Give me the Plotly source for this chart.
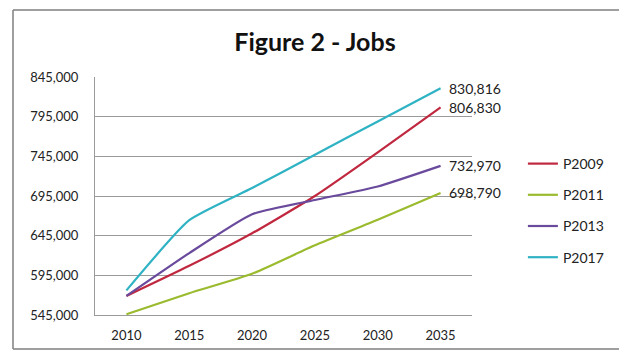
import plotly.graph_objects as go

# Job projections by forecast vintage
years = ["2010", "2015", "2020", "2025", "2030", "2035"]
p2009 = [569000, 607000, 648000, 695000, 750000, 806830]
p2011 = [546000, 572500, 597000, 633000, 665000, 698790]
p2013 = [569000, 623000, 672000, 690000, 707000, 732970]
p2017 = [576000, 664500, 705000, 747000, 789000, 830816]

series_names = ["P2009", "P2011", "P2013", "P2017"]
series_values = [p2009, p2011, p2013, p2017]
series_colors = ["#C0283F", "#9BBB2E", "#6A4A9C", "#2FB3C4"]

y_ticks = [545000, 595000, 645000, 695000, 745000, 795000, 845000]

FONT = "Lato, 'Liberation Sans', sans-serif"

fig = go.Figure()
last_idx = len(years) - 1
for name, vals, col in zip(series_names, series_values, series_colors):
    fig.add_trace(go.Scatter(
        x=years, y=vals, name=name, mode="lines",
        line=dict(color=col, width=2.2, shape="spline", smoothing=0.5),
        legendgroup=name,
    ))
    # end-of-line value label (category axis position given as index)
    fig.add_annotation(
        x=last_idx, y=vals[-1], text=f"{vals[-1]:,}",
        showarrow=False, xanchor="left", yanchor="middle", xshift=6,
        font=dict(family=FONT, size=14, color="#222222"),
    )

fig.update_layout(
    width=619, height=350,
    margin=dict(l=95, r=147, t=77, b=35, autoexpand=False),
    paper_bgcolor="white", plot_bgcolor="white",
    title=dict(text="<b>Figure 2 - Jobs</b>", x=315 / 619, xref="container",
               xanchor="center", y=1 - 42 / 350, yanchor="middle",
               font=dict(family=FONT, size=25, color="#111111")),
    font=dict(family=FONT, size=13, color="#222222"),
    showlegend=True,
    legend=dict(x=1.135, xanchor="left", y=(315 - 148) / 238, yanchor="top",
                tracegroupgap=10, itemwidth=30,
                font=dict(family=FONT, size=14, color="#222222"),
                bgcolor="rgba(0,0,0,0)"),
    xaxis=dict(type="category", range=[-0.5, 5.5], showgrid=False,
               showline=True, linecolor="#9a9a9a", linewidth=1, ticks="",
               ticklabelstandoff=8, automargin=False,
               tickfont=dict(family=FONT, size=13, color="#222222")),
    yaxis=dict(range=[545000, 845000], tickvals=y_ticks, tickformat=",d",
               showgrid=True, gridcolor="#9a9a9a", gridwidth=1,
               showline=True, linecolor="#9a9a9a", linewidth=1, ticks="",
               ticklabelstandoff=13, zeroline=False, automargin=False,
               tickfont=dict(family=FONT, size=13, color="#222222")),
)

# chart frame: top, left and bottom edges (right edge runs past the page)
frame_x0, frame_x1 = (13 - 95) / 377, (680 - 95) / 377
frame_y0, frame_y1 = (315 - 349) / 238, (315 - 10) / 238
for x0, y0, x1, y1 in [(frame_x0, frame_y1, frame_x1, frame_y1),
                       (frame_x0, frame_y0, frame_x0, frame_y1),
                       (frame_x0, frame_y0, frame_x1, frame_y0)]:
    fig.add_shape(type="line", xref="paper", yref="paper",
                  x0=x0, y0=y0, x1=x1, y1=y1,
                  line=dict(color="#7f7f7f", width=1.5), layer="below")

fig.write_html("out.html")
